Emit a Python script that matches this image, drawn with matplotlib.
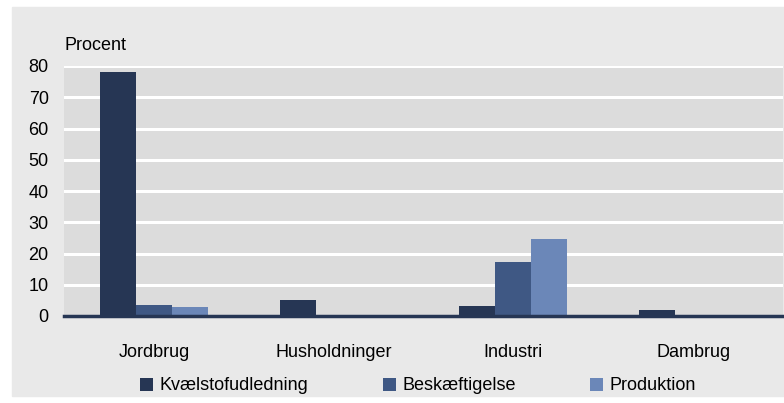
import numpy as np
import matplotlib.pyplot as plt
from matplotlib.patches import Rectangle

plt.rcParams['font.family'] = ['Liberation Sans', 'DejaVu Sans']

# data
kategorier = ['Jordbrug', 'Husholdninger', 'Industri', 'Dambrug']
kvaelstof = [78.1, 5.1, 3.2, 1.9]
beskaeftigelse = [3.5, 0, 17.3, 0]
produktion = [2.9, 0, 24.6, 0]
serier = ['Kvælstofudledning', 'Beskæftigelse', 'Produktion']
farver = ['#263654', '#3f5884', '#6b87b8']
yticks = [0, 10, 20, 30, 40, 50, 60, 70, 80]

fs = 13

fig = plt.figure(figsize=(7.84, 4.03), dpi=100)
# lysegraa baggrundspanel
fig.patches.append(Rectangle((12 / 784, 7 / 403), 772 / 784, 389 / 403,
                             transform=fig.transFigure, color='#e9e9e9', zorder=-10))

ax = fig.add_axes([64 / 784, (403 - 316) / 403, 719 / 784, 250 / 403])
ax.set_facecolor('#dcdcdc')

x = np.arange(len(kategorier))
w = 0.2
for i, (vals, navn) in enumerate(zip([kvaelstof, beskaeftigelse, produktion], serier)):
    ax.bar(x + (i - 1) * w, vals, w, color=farver[i], label=navn, zorder=3)

ax.set_xlim(-0.5, 3.5)
ax.set_ylim(0, 80)
ax.set_yticks(yticks)
ax.set_xticks(x)
ax.set_xticklabels(kategorier)
ax.tick_params(axis='both', length=0, labelsize=fs, colors='black')
ax.tick_params(axis='x', pad=20)
ax.tick_params(axis='y', pad=11)
ax.grid(axis='y', color='white', linewidth=2.2, zorder=1)
for s in ax.spines.values():
    s.set_visible(False)
ax.axhline(0, color='#263654', linewidth=2.5, zorder=4, clip_on=False)

ax.text(0, 1.05, 'Procent', transform=ax.transAxes, fontsize=fs, va='bottom', ha='left')

fig.legend(loc='center', bbox_to_anchor=(418 / 784, 1 - 386 / 403), ncol=3, frameon=False,
           fontsize=fs, handlelength=0.75, handleheight=0.75, handletextpad=0.35,
           columnspacing=4.1)

fig.savefig('out.png', dpi=100, facecolor='white')
